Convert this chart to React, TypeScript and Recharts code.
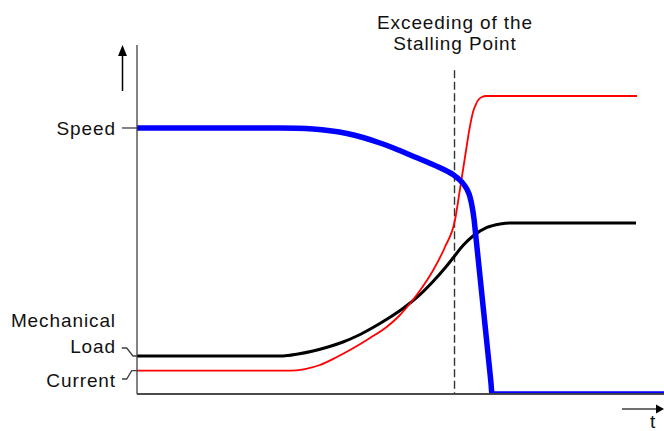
import React from 'react';
import { LineChart, Line, XAxis, YAxis, ReferenceLine } from 'recharts';

// time (0..100) and value (0..100) pairs
const speedT = [0, 27.13, 30.36, 33.4, 36.62, 39.85, 42.88, 46.11, 49.34, 52.37, 55.03, 57.5, 59.01, 59.96, 60.91, 61.86, 62.62, 63.19, 63.57, 63.95, 64.33, 66.98, 67.17, 67.36, 100];
const speedV = [76.22, 76.22, 76.13, 75.9, 75.42, 74.64, 73.5, 71.92, 70.06, 68.14, 66.45, 64.81, 63.72, 62.92, 61.78, 60.34, 58.62, 56.45, 53.87, 50.14, 44.7, 6.02, 3.15, 0, 0];

const currentT = [0, 29.03, 31.88, 34.72, 37.76, 40.99, 44.21, 47.44, 49.72, 51.8, 53.7, 56.17, 58.44, 60.34, 61.29, 62.24, 63.19, 63.76, 64.33, 64.9, 65.46, 66.22, 94.88];
const currentV = [6.68, 6.68, 7.16, 8.31, 10.46, 13.09, 16.05, 19.28, 22.35, 25.93, 29.66, 35.39, 42.12, 49.86, 58.74, 67.91, 76.79, 80.8, 83.09, 84.53, 85.1, 85.39, 85.39];

const loadT = [0, 27.7, 30.55, 33.4, 36.24, 39.09, 41.94, 44.78, 47.63, 50.47, 53.32, 56.17, 58.44, 59.96, 61.86, 63.76, 66.41, 68.88, 70.78, 94.69];
const loadV = [10.89, 10.89, 11.46, 12.32, 13.47, 14.9, 16.76, 19.05, 21.63, 24.5, 27.94, 32.23, 36.1, 38.97, 42.55, 45.27, 47.71, 48.71, 49.0, 49.0];

const stallT = 60.25;
const stallTop = 92.8;

const yTickValues = [76.22, 10.89, 6.68];
const yTickLabels = ['Speed', 'Mechanical\nLoad', 'Current'];

const speedData = speedT.map((t, i) => ({ t, v: speedV[i] }));
const currentData = currentT.map((t, i) => ({ t, v: currentV[i] }));
const loadData = loadT.map((t, i) => ({ t, v: loadV[i] }));

const FONT = '"Liberation Sans", Arial, sans-serif';
const AX = '#404040';

const YTick = (props: any) => {
  const { x, y, payload } = props;
  const idx = yTickValues.indexOf(payload.value);
  const label = yTickLabels[idx] ?? '';
  const textStyle = { fontFamily: FONT, fontSize: 19, letterSpacing: 0.9, fill: '#111' };
  if (idx === 0) {
    return (
      <g>
        <line x1={x - 15} x2={x} y1={y} y2={y} stroke={AX} strokeWidth={1.3} />
        <text x={x - 21} y={y + 7} textAnchor="end" style={textStyle}>{label}</text>
      </g>
    );
  }
  if (idx === 1) {
    const [l1, l2] = label.split('\n');
    return (
      <g>
        <path d={`M${x - 15.3},${y - 8} H${x - 10.3} L${x - 4},${y} H${x}`} fill="none" stroke={AX} strokeWidth={1.3} />
        <text x={x - 21} y={y - 29} textAnchor="end" style={textStyle}>{l1}</text>
        <text x={x - 21} y={y - 3} textAnchor="end" style={textStyle}>{l2}</text>
      </g>
    );
  }
  return (
    <g>
      <path d={`M${x - 15},${y + 8.3} H${x - 10.3} L${x - 5.3},${y} H${x}`} fill="none" stroke={AX} strokeWidth={1.3} />
      <text x={x - 21} y={y + 16} textAnchor="end" style={textStyle}>{label}</text>
    </g>
  );
};

export default function App() {
  const textStyle = { fontFamily: FONT, fontSize: 19, letterSpacing: 0.9, fill: '#111' };
  return (
    <div style={{ position: 'absolute', left: 0, top: 0, width: 664, height: 431, background: '#fff' }}>
      <LineChart width={664} height={431} margin={{ top: 45, right: 0, bottom: 0, left: 0 }}>
        <XAxis
          type="number"
          dataKey="t"
          domain={[0, 100]}
          allowDataOverflow
          height={37}
          tick={false}
          tickLine={false}
          axisLine={{ stroke: AX, strokeWidth: 1.3 }}
        />
        <YAxis
          type="number"
          dataKey="v"
          domain={[0, 100]}
          allowDataOverflow
          width={137}
          ticks={yTickValues}
          interval={0}
          tick={<YTick />}
          tickLine={false}
          tickSize={0}
          tickMargin={0}
          axisLine={{ stroke: AX, strokeWidth: 1.3 }}
        />
        <ReferenceLine
          segment={[{ x: stallT, y: stallTop }, { x: stallT, y: 0 }]}
          stroke="#333"
          strokeWidth={1.4}
          strokeDasharray="8 3.5"
        />
        <Line data={loadData} dataKey="v" type="monotone" stroke="#000" strokeWidth={3} dot={false} isAnimationActive={false} />
        <Line data={currentData} dataKey="v" type="monotone" stroke="#ff0000" strokeWidth={1.8} dot={false} isAnimationActive={false} />
        <Line data={speedData} dataKey="v" type="monotone" stroke="#0000ff" strokeWidth={5.5} strokeLinejoin="round" dot={false} isAnimationActive={false} />
        <ReferenceLine y={0} stroke={AX} strokeWidth={1.3} />
      </LineChart>
      <svg width={664} height={431} style={{ position: 'absolute', left: 0, top: 0, pointerEvents: 'none' }}>
        <line x1={122.5} x2={122.5} y1={91} y2={54} stroke="#000" strokeWidth={1.5} />
        <polygon points="118,56 127,56 122.5,45" fill="#000" />
        <line x1={622} x2={657} y1={409} y2={409} stroke={AX} strokeWidth={1.5} />
        <polygon points="656,404.5 656,413.5 664,409" fill="#000" />
        <text x={653} y={428} textAnchor="middle" style={textStyle}>t</text>
        <text x={455} y={29} textAnchor="middle" style={textStyle}>Exceeding of the</text>
        <text x={455} y={50} textAnchor="middle" style={textStyle}>Stalling Point</text>
      </svg>
    </div>
  );
}
